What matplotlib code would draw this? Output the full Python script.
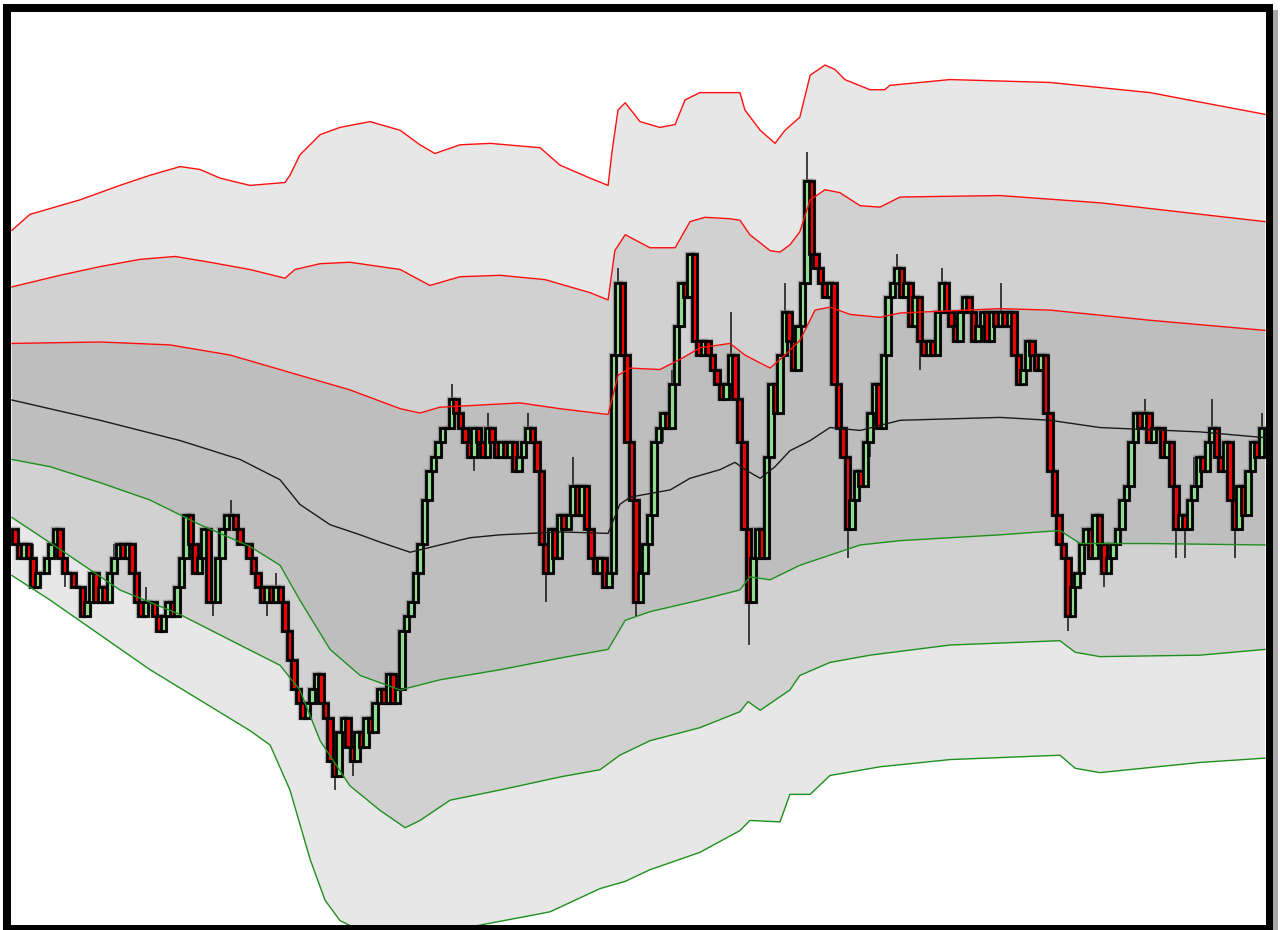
import numpy as np
import matplotlib
matplotlib.use("Agg")
import matplotlib.pyplot as plt
from matplotlib.patches import Rectangle

# closes in price ticks, one per bar (open = previous close)
closes = [
    -1, -2, -1, -2, -4, -3, -3, -2, -1, 0,
    -2, -3, -3, -4, -4, -6, -5, -3, -5, -4,
    -5, -3, -2, -1, -2, -1, -3, -5, -6, -5,
    -5, -6, -7, -6, -5, -6, -4, -2, 1, -1,
    -3, -2, 0, -5, -5, -2, 0, 1,
    1, 0, -1, -1, -2, -3, -4, -5, -4, -5,
    -4, -5, -7, -9, -11, -12, -13, -12, -11, -10,
    -12, -13, -16, -17, -14, -13, -15, -16, -14, -15,
    -13, -14, -12, -11, -12, -10, -12, -11,
    -7, -6, -5, -3, -1, 2, 4, 5, 6, 7,
    7, 9, 8, 7, 6, 5, 7, 6, 5, 7,
    6, 5, 6, 5, 6, 4, 5, 6, 7, 6,
    4, -1, -3, 0, -2, 1, 0, 1, 3, 1,
    3, 0, -2, -3, -2, -4, -3, 12,
    17, 12, 6, 2, -5, -3, -1, 1, 6, 7,
    8, 7, 10, 14, 17, 16, 19, 13, 12, 13,
    12, 11, 10, 9, 10, 12, 9, 6, 0, -5,
    -2, 0, -2, 5, 10, 8, 12, 15, 13, 11,
    14, 17, 24, 19, 18, 17, 16, 17,
    10, 7, 5, 0, 2, 4, 3, 6, 8, 10,
    7, 12, 16, 17, 18, 16, 17, 14, 16, 13,
    12, 13, 12, 15, 17, 15, 14, 13, 15, 16,
    15, 13, 14, 15, 13, 15, 14, 15, 14, 15,
    12, 10, 11, 13, 12, 11, 12, 8, 4, 1, -1, -2,
    -6, -4, -3, -1, 0, -2, 1, -1, -3, -2,
    -1, 0, 2, 3, 6, 8, 7, 8, 6, 7,
    7, 5, 6, 3, 0, 1, 0, 2, 3, 5,
    4, 6, 7, 5, 4, 6, 2, 0, 3, 1,
    4, 6, 5, 7,
]
first_open = 0

# wick extremes where they stick out past the body
highs_extra = {4: -1, 22: -1, 29: -4, 48: 2, 58: -3, 62: -9, 74: -14, 97: 10,
               105: 8, 114: 8, 124: 5, 134: 18, 146: 11, 159: 15, 171: 17,
               176: 26, 196: 19, 206: 18, 219: 17, 251: 9, 262: 5, 266: 9, 277: 8}
lows_extra = {11: -4, 32: -7, 44: -6, 56: -6, 71: -18, 75: -17, 102: 4, 118: -5,
              138: -6, 144: 6, 163: -8, 185: -2, 190: 5, 201: 11, 234: -7,
              235: -6, 242: -4, 258: -2, 260: -2, 271: -2}

# bands: (bar index, price ticks)
red3_x = [-0.7, 3.3, 14.4, 23.3, 30.0, 36.7, 41.1, 45.6, 52.2, 60.0, 61.1, 63.3, 67.8, 72.2, 78.9,
          85.6, 90.0, 93.3, 98.9, 105.6, 116.7, 121.1, 127.8, 131.8, 132.7, 134.0, 135.6, 138.9,
          143.3, 146.7, 148.9, 152.2, 161.1, 162.2, 165.6, 168.9, 171.1, 174.4, 175.6, 176.7,
          180.0, 182.2, 184.4, 190.0, 193.3, 194.4, 207.8, 230.0, 252.2, 277.8]
red3_y = [20.6, 21.7, 22.7, 23.7, 24.4, 25.0, 24.8, 24.2, 23.7, 23.9, 24.4, 25.8, 27.2, 27.7, 28.1,
          27.5, 26.5, 25.9, 26.5, 26.6, 26.3, 25.1, 24.2, 23.7, 26.1, 28.9, 29.4, 28.1,
          27.7, 27.9, 29.6, 30.1, 30.1, 28.9, 27.5, 26.6, 27.5, 28.4, 29.9, 31.3,
          32.0, 31.7, 31.0, 30.3, 30.3, 30.6, 31.0, 30.8, 30.1, 28.6]

red2_x = [-0.7, 10.0, 18.9, 27.8, 35.6, 43.3, 52.2, 60.0, 62.2, 67.8, 74.4, 85.6, 92.2, 98.9, 107.8,
          117.8, 127.8, 131.8, 133.3, 135.6, 141.1, 146.7, 150.0, 153.3, 158.9, 161.1, 163.3,
          167.8, 170.0, 172.2, 174.4, 176.7, 180.0, 183.3, 187.8, 192.2, 196.7, 218.9, 241.1, 277.8]
red2_y = [16.7, 17.5, 18.1, 18.6, 18.8, 18.4, 17.9, 17.3, 17.9, 18.3, 18.4, 17.9, 16.8, 17.4, 17.5,
          17.2, 16.3, 15.8, 19.2, 20.3, 19.4, 19.4, 21.2, 21.5, 21.4, 21.3, 20.3,
          19.2, 19.1, 19.6, 20.5, 22.7, 23.4, 23.2, 22.3, 22.2, 22.9, 23.0, 22.5, 21.2]

red1_x = [-0.7, 18.9, 34.4, 47.8, 63.3, 74.4, 85.6, 90.0, 94.4, 112.2, 121.1, 131.8, 134.0, 136.7,
          143.3, 147.8, 152.2, 158.9, 162.2, 167.8, 171.1, 174.4, 177.8, 181.1, 185.6, 192.2,
          196.7, 218.9, 230.0, 252.2, 277.8]
red1_y = [12.8, 12.9, 12.7, 12.0, 10.6, 9.6, 8.3, 8.0, 8.4, 8.7, 8.3, 7.9, 10.6, 11.1,
          11.0, 11.7, 12.5, 12.8, 12.0, 11.1, 12.0, 13.0, 15.1, 15.3, 14.8, 14.6,
          14.9, 15.2, 15.1, 14.4, 13.7]

mid_x = [-0.7, 18.9, 36.7, 50.0, 58.9, 63.3, 70.0, 76.7, 81.1, 87.8, 94.4, 101.1, 107.8, 121.1,
         131.8, 134.4, 136.7, 145.6, 150.0, 156.7, 160.0, 162.2, 165.6, 168.9, 172.2, 176.7,
         181.1, 187.8, 196.7, 218.9, 230.0, 241.1, 263.3, 277.8]
mid_y = [8.9, 7.5, 6.1, 4.8, 3.4, 1.7, 0.3, -0.4, -0.9, -1.6, -1.1, -0.6, -0.4, -0.2,
         -0.3, 1.7, 2.2, 2.7, 3.5, 4.1, 4.6, 4.1, 3.5, 4.3, 5.4, 6.1,
         7.0, 6.8, 7.5, 7.7, 7.5, 7.0, 6.7, 6.3]

grn1_x = [-0.7, 7.8, 18.9, 30.0, 41.1, 52.2, 58.9, 63.3, 70.0, 76.7, 85.6, 94.4, 107.8, 121.1,
          131.8, 135.6, 141.1, 152.2, 161.1, 163.3, 167.8, 174.4, 181.1, 187.8, 196.7, 218.9,
          232.2, 236.7, 252.2, 277.8]
grn1_y = [4.8, 4.3, 3.2, 2.0, 0.3, -1.2, -2.5, -4.9, -8.3, -10.1, -11.1, -10.4, -9.7, -8.9,
          -8.3, -6.3, -5.7, -4.9, -4.2, -3.3, -3.5, -2.5, -1.8, -1.1, -0.8, -0.4,
          -0.1, -1.0, -1.0, -1.1]

grn2_x = [-0.7, 10.0, 23.3, 36.7, 50.0, 58.9, 63.3, 67.8, 74.4, 81.1, 86.7, 90.0, 96.7, 107.8,
          121.1, 130.0, 134.4, 141.1, 152.2, 161.1, 162.9, 165.6, 172.2, 174.4, 181.1, 190.0,
          207.8, 232.2, 235.6, 241.1, 263.3, 277.8]
grn2_y = [0.8, -1.4, -4.2, -5.9, -8.0, -9.4, -11.1, -14.6, -17.7, -19.4, -20.6, -20.1, -18.7, -18.0,
          -17.1, -16.6, -15.6, -14.6, -13.7, -12.6, -11.9, -12.5, -11.1, -10.1, -9.2, -8.7,
          -8.0, -7.7, -8.5, -8.8, -8.7, -8.3]

grn3_x = [-0.7, 7.8, 18.9, 30.0, 41.1, 52.2, 56.7, 61.1, 65.6, 68.9, 72.2, 76.7, 96.7, 112.2,
          118.9, 130.0, 135.6, 141.1, 152.2, 161.1, 163.3, 170.0, 172.2, 176.7, 181.1, 192.2,
          207.8, 232.2, 235.6, 241.1, 263.3, 277.8]
grn3_y = [-3.2, -4.9, -7.3, -9.7, -11.8, -13.9, -14.9, -18.0, -22.8, -25.6, -27.0, -27.7, -27.7, -26.8,
          -26.4, -24.8, -24.3, -23.5, -22.3, -20.8, -20.1, -20.2, -18.3, -18.3, -17.0, -16.4,
          -15.9, -15.6, -16.5, -16.8, -16.1, -15.8]

W, H = 1280, 930
fig = plt.figure(figsize=(W / 100, H / 100), dpi=100)
fig.patch.set_facecolor("white")

# black frame + soft shadow on the right
fig.patches.append(Rectangle((1273 / W, 0), 5 / W, 1 - 10 / H, transform=fig.transFigure,
                             facecolor="#a8a8a8", edgecolor="none", zorder=0))
fig.patches.append(Rectangle((3 / W, 0), 1270 / W, 1 - 4 / H, transform=fig.transFigure,
                             facecolor="black", edgecolor="none", zorder=0))

ax = fig.add_axes([11 / W, 5 / H, 1255 / W, 913 / H])
ax.set_zorder(5)
ax.set_facecolor("white")
for s in ax.spines.values():
    s.set_visible(False)
ax.set_xticks([])
ax.set_yticks([])

# band fills
def band(xu, yu, xl, yl, col):
    ax.fill(np.r_[xu, xl[::-1]], np.r_[yu, yl[::-1]], color=col, lw=0, zorder=1)

band(red3_x, red3_y, grn3_x, grn3_y, "#e7e7e7")
band(red2_x, red2_y, grn2_x, grn2_y, "#d1d1d1")
band(red1_x, red1_y, grn1_x, grn1_y, "#bebebe")

# candles
n = len(closes)
x = np.arange(n)
opens = np.r_[first_open, closes[:-1]]
closes_a = np.array(closes)
hi = np.maximum(opens, closes_a).astype(float)
lo = np.minimum(opens, closes_a).astype(float)
for k, v in highs_extra.items():
    hi[k] = max(hi[k], v)
for k, v in lows_extra.items():
    lo[k] = min(lo[k], v)

ax.vlines(x, lo, hi, color="#111111", lw=1.1, zorder=2)
cols = np.where(closes_a >= opens, "#90dc90", "#ee0000")
ax.bar(x, closes_a - opens, bottom=opens, width=1.2, color=cols,
       edgecolor="#666666", linewidth=3.2, alpha=0.45, zorder=2)
ax.bar(x, closes_a - opens, bottom=opens, width=1.2, color=cols,
       edgecolor="black", linewidth=2.0, zorder=3)

# band lines
for bx, by in [(red3_x, red3_y), (red2_x, red2_y), (red1_x, red1_y)]:
    ax.plot(bx, by, color="#ff1010", lw=1.0, zorder=4)
for bx, by in [(grn1_x, grn1_y), (grn2_x, grn2_y), (grn3_x, grn3_y)]:
    ax.plot(bx, by, color="#1f8f1f", lw=1.0, zorder=4)
ax.plot(mid_x, mid_y, color="#1a1a1a", lw=1.0, zorder=4)

ax.set_xlim(-0.89, 278.0)
ax.set_ylim(-27.31, 35.66)

fig.savefig("out.png", dpi=100)
